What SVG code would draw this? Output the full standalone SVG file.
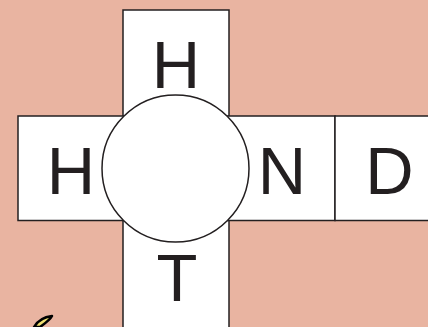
<svg xmlns="http://www.w3.org/2000/svg" width="428" height="327" viewBox="0 0 428 327">
<style>
.box{fill:#ffffff;stroke:#231f20;stroke-width:1.5}
.lbl{font-family:"Liberation Sans",Arial,sans-serif;font-size:67px;fill:#231f20;text-anchor:middle}
</style>
<rect x="0" y="0" width="428" height="327" fill="#e9b4a1"/>
<g id="vertical">
<rect class="box" x="123" y="10" width="106" height="330"/>
</g>
<g id="horizontal">
<rect class="box" x="18" y="116" width="317" height="104.5"/>
</g>
<g id="box-D">
<rect class="box" x="335" y="116" width="100" height="104.5"/>
<text class="lbl" x="389.5" y="194">D</text>
</g>
<g id="circle">
<circle cx="175.5" cy="168.5" r="73.5" fill="#ffffff" stroke="#231f20" stroke-width="1.5"/>
</g>
<g id="label-H-top"><text class="lbl" x="176" y="88">H</text></g>
<g id="label-H-left"><text class="lbl" x="71" y="194">H</text></g>
<g id="label-N"><text class="lbl" x="282" y="194">N</text></g>
<g id="label-T"><text class="lbl" x="177" y="301">T</text></g>
<g id="connectors"></g>
<path d="M34 327 C38 320 44 317 52 316 C50 320 44 324 40 327 Z" fill="#f0e070" stroke="#000" stroke-width="2.5" stroke-linejoin="round"/>
</svg>
